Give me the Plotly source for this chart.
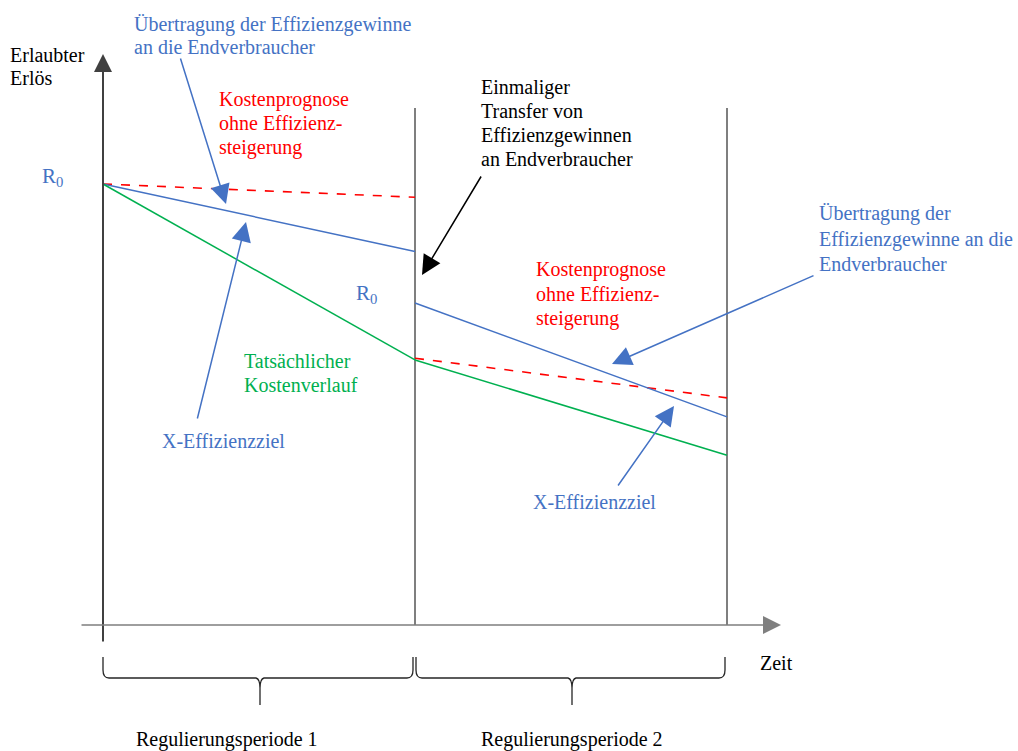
import plotly.graph_objects as go

# ---------------- data (time in regulation periods, revenue index R0 = 100) ----------------
period_bounds = [0, 1, 2]
t1 = [0, 1]
t2 = [1, 2]
forecast_p1 = [100.0, 97.0]     # Kostenprognose ohne Effizienzsteigerung (Periode 1)
allowed_p1 = [100.0, 84.7]      # erlaubter Erlös (Periode 1)
actual_p1 = [100.0, 60.1]       # tatsächlicher Kostenverlauf (Periode 1)
forecast_p2 = [60.5, 51.5]
allowed_p2 = [73.0, 47.2]
actual_p2 = [60.1, 38.5]
period_labels = ["Regulierungsperiode 1", "Regulierungsperiode 2"]

BLUE = "#4472C4"
RED = "#FF0000"
GREEN = "#00B050"
GRAY = "#7F7F7F"
DARK = "#404040"
FONT = "Liberation Serif"
FS = 20

# pixel -> data helpers for layout placement
def X(px):
    return (px - 103) / 312.0

def Y(py):
    return (625 - py) / 4.41

fig = go.Figure()

# period separator lines
for b in period_bounds[1:]:
    fig.add_trace(go.Scatter(x=[b, b], y=[0, Y(108)], mode="lines",
                             line=dict(color=GRAY, width=2), hoverinfo="skip"))

for t, f, a, c in [(t1, forecast_p1, allowed_p1, actual_p1), (t2, forecast_p2, allowed_p2, actual_p2)]:
    fig.add_trace(go.Scatter(x=t, y=f, mode="lines", line=dict(color=RED, width=1.6, dash="dash")))
    fig.add_trace(go.Scatter(x=t, y=a, mode="lines", line=dict(color=BLUE, width=1.5)))
    fig.add_trace(go.Scatter(x=t, y=c, mode="lines", line=dict(color=GREEN, width=1.5)))

ann = []

def arrow(tip, tail, color, width=1.5, size=2.6, head=2):
    ann.append(dict(x=X(tip[0]), y=Y(tip[1]), ax=X(tail[0]), ay=Y(tail[1]),
                    xref="x", yref="y", axref="x", ayref="y", text="",
                    showarrow=True, arrowhead=head, arrowsize=size, arrowwidth=width,
                    arrowcolor=color, standoff=0, startstandoff=0))

def text(px, py, s, color, size=FS, anchor="left"):
    ann.append(dict(x=X(px), y=Y(py), xref="x", yref="y", text=s, showarrow=False,
                    xanchor=anchor, yanchor="middle",
                    font=dict(family=FONT, size=size, color=color)))

# axes
arrow((103, 54), (103, 643), DARK, width=2, size=1.8)
arrow((781, 625), (80, 625), GRAY, width=1.5, size=2.4)

# annotation arrows
arrow((226, 204), (180, 57), BLUE)
arrow((246, 222), (197, 420), BLUE)
arrow((422, 275), (482, 175), "#000000")
arrow((612, 364), (815, 275), BLUE)
arrow((674, 406), (617, 487), BLUE)

# texts
text(8, 55, "Erlaubter", "#000000")
text(8, 78, "Erlös", "#000000")
text(132, 24, "Übertragung der Effizienzgewinne", BLUE)
text(132, 47, "an die Endverbraucher", BLUE)
text(217, 99, "Kostenprognose", RED)
text(217, 123, "ohne Effizienz-", RED)
text(217, 147, "steigerung", RED)
text(40, 177, "R<sub>0</sub>", BLUE, size=21)
text(354, 294, "R<sub>0</sub>", BLUE, size=21)
text(479, 87, "Einmaliger", "#000000")
text(479, 111, "Transfer von", "#000000")
text(479, 135, "Effizienzgewinnen", "#000000")
text(479, 159, "an Endverbraucher", "#000000")
text(817, 213, "Übertragung der", BLUE)
text(817, 239, "Effizienzgewinne an die", BLUE)
text(817, 264, "Endverbraucher", BLUE)
text(534, 269, "Kostenprognose", RED)
text(534, 294, "ohne Effizienz-", RED)
text(534, 318, "steigerung", RED)
text(242, 361, "Tatsächlicher", GREEN)
text(242, 385, "Kostenverlauf", GREEN)
text(160, 441, "X-Effizienzziel", BLUE)
text(531, 502, "X-Effizienzziel", BLUE)
text(758, 663, "Zeit", "#000000")
label_centers = [227, 572]
for lab, cx in zip(period_labels, label_centers):
    text(cx, 739, lab, "#000000", anchor="center")

# braces below the time axis
shapes = []
for i in range(2):
    xl = 103 + 312 * period_bounds[i] + (0 if i == 0 else 1)
    xr = 103 + 312 * period_bounds[i + 1] - 2
    xm = 103 + 312 * (period_bounds[i] + period_bounds[i + 1]) / 2 + (-1 if i == 0 else 0)
    xm = [260, 572][i]
    pts = [("M", xl, 657), ("L", xl, 670), ("Q", xl, 678, xl + 6, 678), ("L", xm - 4, 678),
           ("Q", xm, 679, xm, 688), ("L", xm, 705), ("M", xm, 688), ("Q", xm, 679, xm + 4, 678),
           ("L", xr - 6, 678), ("Q", xr, 678, xr, 670), ("L", xr, 657)]
    p = ""
    for seg in pts:
        cmd = seg[0]
        coords = seg[1:]
        parts = []
        for k in range(0, len(coords), 2):
            parts.append(f"{X(coords[k]):.5f},{Y(coords[k+1]):.5f}")
        p += cmd + " " + " ".join(parts) + " "
    shapes.append(dict(type="path", path=p.strip(), xref="x", yref="y",
                       line=dict(color="#262626", width=1.3)))

fig.update_layout(
    width=1018, height=751,
    margin=dict(l=0, r=0, t=0, b=0),
    paper_bgcolor="white", plot_bgcolor="white",
    showlegend=False,
    xaxis=dict(range=[X(0), X(1018)], visible=False, fixedrange=True),
    yaxis=dict(range=[Y(751), Y(0)], visible=False, fixedrange=True),
    annotations=ann, shapes=shapes,
)

fig.write_html("out.html", config={"displayModeBar": False},
               post_script="document.body.style.margin='0';document.body.style.overflow='hidden';")
